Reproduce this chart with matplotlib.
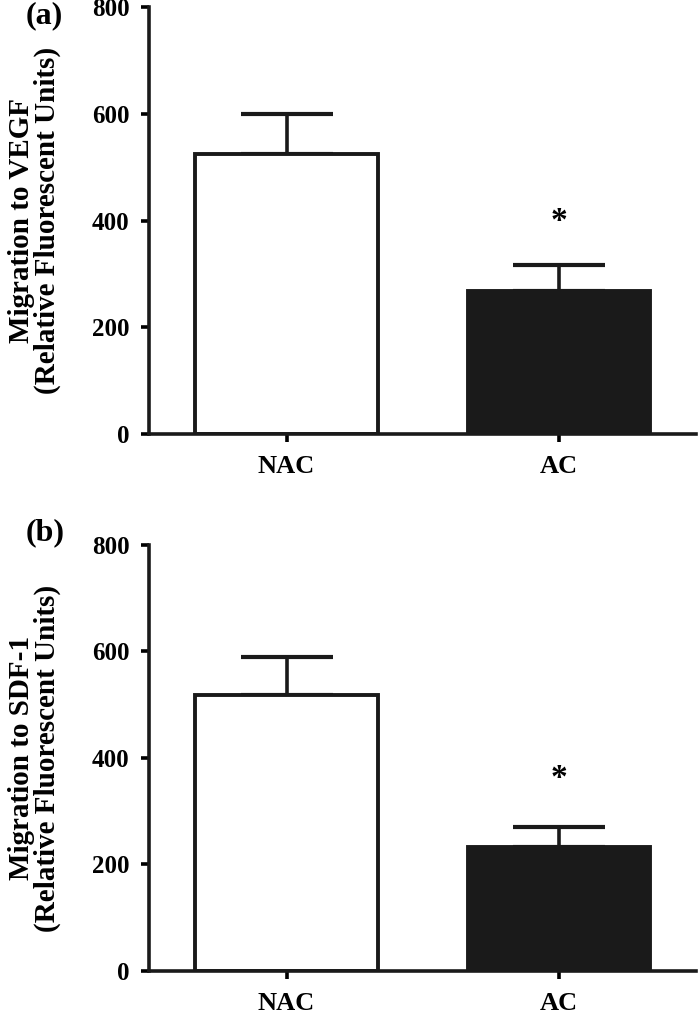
import numpy as np
import matplotlib
matplotlib.use("Agg")
import matplotlib.pyplot as plt

# DATA
groups = ["NAC", "AC"]
vegf_mean = [526, 268]
vegf_sem = [75, 49]
sdf1_mean = [518, 233]
sdf1_sem = [72, 38]
star_y_vegf = 398
star_y_sdf1 = 362
y_ticks = [0, 200, 400, 600, 800]

plt.rcParams["font.family"] = "Liberation Serif"
plt.rcParams["font.weight"] = "bold"

fig = plt.figure(figsize=(6.99, 10.13), dpi=100)

left, width = 0.2132, 0.7825
ax_a = fig.add_axes([left, 0.5716, width, 0.9926 - 0.5716])
ax_b = fig.add_axes([left, 0.0415, width, 0.462 - 0.0415])

x = np.arange(len(groups))
colors = ["white", "#1a1a1a"]


def draw_panel(ax, means, sems, star_y, ylabel):
    ax.bar(x, means, width=0.67, color=colors, edgecolor="#1a1a1a",
           linewidth=2.8, zorder=2)
    ax.errorbar(x, means, yerr=[[0, 0], sems], fmt="none", ecolor="#1a1a1a",
                elinewidth=2.6, capsize=33, capthick=3.0, zorder=1)
    ax.text(x[1], star_y, "*", ha="center", va="center", fontsize=24,
            fontweight="bold")
    ax.set_xlim(-0.505, 1.503)
    ax.set_ylim(0, 800)
    ax.set_yticks(y_ticks)
    ax.set_xticks(x)
    ax.set_xticklabels(groups)
    ax.spines["top"].set_visible(False)
    ax.spines["right"].set_visible(False)
    for s in ["left", "bottom"]:
        ax.spines[s].set_linewidth(2.6)
        ax.spines[s].set_color("#1a1a1a")
    ax.tick_params(axis="y", length=6, width=2.6, pad=8, labelsize=18)
    ax.tick_params(axis="x", length=6, width=2.6, pad=9, labelsize=19)
    ax.set_ylabel(ylabel, fontsize=21, fontweight="bold", labelpad=22,
                  linespacing=0.95)


draw_panel(ax_a, vegf_mean, vegf_sem, star_y_vegf,
           "Migration to VEGF\n(Relative Fluorescent Units)")
draw_panel(ax_b, sdf1_mean, sdf1_sem, star_y_sdf1,
           "Migration to SDF-1\n(Relative Fluorescent Units)")

fig.text(26 / 699, 1 - 1 / 1013, "(a)", ha="left", va="top", fontsize=23,
         fontweight="bold")
fig.text(26 / 699, 1 - 518 / 1013, "(b)", ha="left", va="top", fontsize=23,
         fontweight="bold")

fig.savefig("out.png", dpi=100)
